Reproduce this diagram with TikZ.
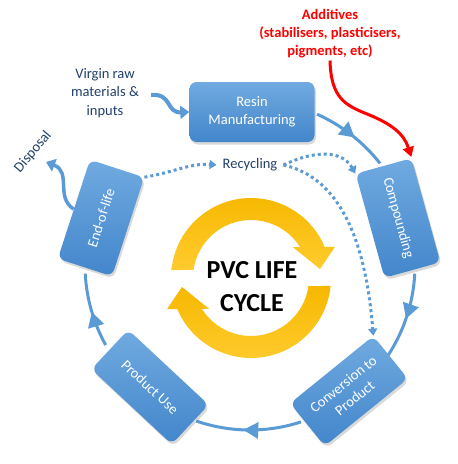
\documentclass[tikz,border=0pt]{standalone}
\usepackage{fontspec}
\setmainfont{Carlito}
\usetikzlibrary{arrows.meta,decorations.markings,shadows,calc}
\definecolor{cblue}{HTML}{5B9BD5}
\definecolor{boxlight}{HTML}{70AAE0}
\definecolor{boxdark}{HTML}{4386CB}
\definecolor{navy}{HTML}{22406A}
\definecolor{addred}{HTML}{FF0000}
\definecolor{ylwA}{HTML}{F6B800}
\definecolor{ylwB}{HTML}{FFCB2E}
\newcommand\boxfont{\fontsize{14.5}{18}\selectfont}
\newcommand\lblfont{\fontsize{14.5}{18.5}\selectfont}
\pgfdeclarelayer{bg}
\pgfsetlayers{bg,main}
\tikzset{
  box/.style={rounded corners=7pt, top color=boxlight, bottom color=boxdark,
    draw=none, text=white, align=center, font=\boxfont, inner sep=2pt,
    drop shadow={opacity=0.3, shadow xshift=1.5pt, shadow yshift=-2.5pt}},
  cyc/.style={draw=cblue, line width=3pt, postaction={decorate},
    decoration={markings, mark=at position #1 with {\arrow{Triangle[length=15pt,width=16pt]}}}},
  dotline/.style={draw=cblue, line width=3pt, dash pattern=on 3pt off 3pt,
    -{Triangle[length=7pt,width=9pt]}},
  lbl/.style={text=navy, font=\lblfont, align=center, inner sep=6pt},
  thick arrow/.style={draw=cblue, line width=4pt, -{Triangle[length=9pt,width=13pt]}},
  ringfill/.style={top color=ylwA, bottom color=ylwB, draw=none}
}
\begin{document}
\begin{tikzpicture}[x=1pt,y=1pt]
\useasboundingbox (0,0) rectangle (458,-464);
\coordinate (C) at (250,-265);
\coordinate (Y) at (251,-278);

% yellow cycle arrows
\path[ringfill] ($(Y)+(174.3:80)$) arc[start angle=174.3, end angle=22.8, radius=80]
  -- ($(Y)+(20.3:89.5)$) -- ($(Y)+(7.4:69.6)$) -- ($(Y)+(36.4:52)$)
  -- ($(Y)+(32.3:58)$) arc[start angle=32.3, end angle=172, radius=58] -- cycle;
\path[ringfill] ($(Y)+(354.3:80)$) arc[start angle=354.3, end angle=202.8, radius=80]
  -- ($(Y)+(200.3:89.5)$) -- ($(Y)+(187.4:69.6)$) -- ($(Y)+(216.4:52)$)
  -- ($(Y)+(212.3:58)$) arc[start angle=212.3, end angle=352, radius=58] -- cycle;

% title
\node[font=\fontsize{26}{33}\selectfont\bfseries, align=center, text=black] (pvc) at (252,-286.5) {PVC LIFE\\CYCLE};

% labels
\node[lbl] (virgin) at (105,-93) {Virgin raw\\materials \&\\inputs};
\node[lbl] (rec) at (250,-165) {Recycling};
\node[lbl, rotate=50, inner sep=1pt] (disp) at (33,-152) {Disposal};
\node[text=addred, font=\fontsize{14.5}{18}\selectfont\bfseries, align=center, inner sep=2pt] (add) at (330,-34) {Additives\\(stabilisers, plasticisers,\\pigments, etc)};

% boxes
\node[box, minimum width=125pt, minimum height=60pt] (resin) at (252,-112) {Resin\\Manufacturing};
\node[box, rotate=-74.5, minimum width=108pt, minimum height=58pt] (comp) at (398,-218) {Compounding};
\node[box, rotate=39, minimum width=107pt, minimum height=55pt] (conv) at (349,-391) {Conversion to\\Product};
\node[box, rotate=-43, minimum width=110pt, minimum height=54pt] (use) at (150,-387) {Product Use};
\node[box, rotate=72, minimum width=104pt, minimum height=57pt] (eol) at (101,-218) {End-of-life};

% connectors behind boxes
\begin{pgfonlayer}{bg}
\coordinate (a1) at ($(C)+(66:165)$);
\coordinate (a2) at ($(C)+(-3:165)$);
\coordinate (a3) at ($(C)+(-72:165)$);
\coordinate (a4) at ($(C)+(209:165)$);
\draw[cyc=0.55] (a1) arc[start angle=66, end angle=38, radius=165];
\draw[cyc=0.5] (a2) arc[start angle=-3, end angle=-35, radius=165];
\draw[cyc=0.55] (a3) arc[start angle=-72, end angle=-109, radius=165];
\draw[cyc=0.48] (a4) arc[start angle=209, end angle=183, radius=165];
\coordinate (dispend) at (46,-162);
\draw[thick arrow] ([xshift=6pt,yshift=-2pt]virgin.east) .. controls (172,-93) and (166,-113) .. (resin.west);
\draw[thick arrow, line width=3.5pt] (eol.north) .. controls (55,-197) and (72,-172) .. (dispend);
\draw[dotline] (eol.south east) .. controls (175,-172) and (190,-163) .. (rec.west);
\draw[dotline] (rec.east) .. controls (315,-150) and (342,-150) .. (comp.south west);
\draw[dotline] (rec.east) .. controls (342,-178) and (366,-245) .. (conv.north east);
\draw[addred, line width=3pt, -{Triangle[length=10pt,width=11pt]}, shorten >=1pt]
  (add.south) .. controls (331,-98) and (345,-105) .. (367,-114)
  .. controls (392,-124) and (404,-134) .. (comp.north west);
\end{pgfonlayer}
\end{tikzpicture}
\end{document}
